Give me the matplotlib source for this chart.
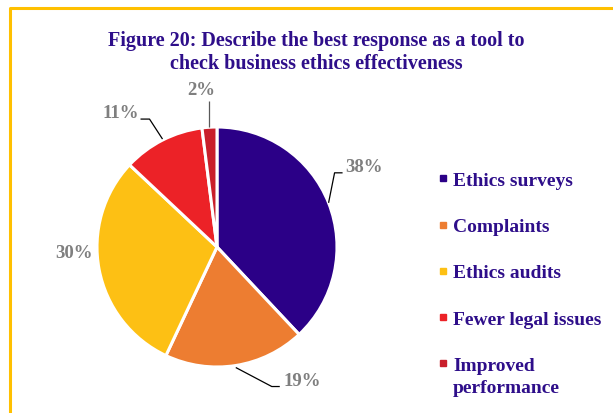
import numpy as np
import matplotlib
matplotlib.use('Agg')
import matplotlib.pyplot as plt
from matplotlib.lines import Line2D

# survey answers, share of respondents (%)
categories = ['Ethics surveys', 'Complaints', 'Ethics audits',
              'Fewer legal issues', 'Improved\nperformance']
shares = [38, 19, 30, 11, 2]
colors = ['#2B0087', '#ED7D31', '#FDC014', '#EC2227', '#C91F2B']

title = 'Figure 20: Describe the best response as a tool to\ncheck business ethics effectiveness'

TITLE_COLOR = '#2E0E8A'
LABEL_COLOR = '#7F7F7F'
SERIF = 'Liberation Serif'

W, H = 613, 414
fig = plt.figure(figsize=(W / 100, H / 100), dpi=100)
# axes in pixel units so the pie can be placed directly
ax = fig.add_axes([0, 0, 1, 1])

cx, cy, r = 217, 166, 120
wedges, _ = ax.pie(shares, colors=colors, startangle=90, counterclock=False,
                   center=(cx, cy), radius=r,
                   wedgeprops=dict(edgecolor='white', linewidth=2.2))
ax.set_xlim(0, W)
ax.set_ylim(0, H)
ax.set_aspect('equal')
ax.axis('off')

# per slice: label anchor offset from the wedge edge, alignment,
# and leader line vertices (offsets from the edge, empty = no line)
label_layout = [
    (17, 36, 'left', [(0, 0), (6, 30), (14, 30)]),
    (48, -15, 'left', [(0, -2), (36, -21), (44, -21)]),
    (-6, 17, 'right', []),
    (-24, 28, 'right', [(0, 1), (-13, 21), (-22, 21)]),
    (-8, 38, 'center', [(0, 0), (0, 26)]),
]

for w, val, (dx, dy, ha, leader) in zip(wedges, shares, label_layout):
    mid = np.deg2rad((w.theta1 + w.theta2) / 2)
    ex, ey = cx + r * np.cos(mid), cy + r * np.sin(mid)
    if leader:
        lx = [ex + p[0] for p in leader]
        ly = [ey + p[1] for p in leader]
        lc = '#595959' if ha == 'center' else 'black'
        ax.plot(lx, ly, color=lc, lw=0.9, solid_capstyle='butt', zorder=1)
    ax.text(ex + dx, ey + dy, f'{val}%', ha=ha, va='center', fontsize=13.5,
            fontweight='bold', family=SERIF, color=LABEL_COLOR)

fig.text(316 / W, 1 - 52.5 / H, title, ha='center', va='center', fontsize=14.5,
         fontweight='bold', family=SERIF, color=TITLE_COLOR, linespacing=1.2)

# legend rows are one line each; wrapped remainder of a label goes underneath
first_lines = [c.split('\n')[0] for c in categories]
handles = [Line2D([], [], marker='s', linestyle='none', markersize=5,
                  markerfacecolor=c, markeredgecolor=c) for c in colors]
leg = fig.legend(handles, first_lines, loc='upper left',
                 bbox_to_anchor=(420 / W, 1 - 155 / H), frameon=False,
                 handlelength=0.6, handletextpad=0.2, labelspacing=1.47,
                 prop=dict(family=SERIF, weight='bold', size=14))
for t in leg.get_texts():
    t.set_color(TITLE_COLOR)

fig.canvas.draw()
for t, full in zip(leg.get_texts(), categories):
    rest = full.split('\n')[1:]
    if rest:
        bb = t.get_window_extent()
        fig.text(bb.x0 / W, (bb.y0 - 22) / H, '\n'.join(rest), ha='left',
                 va='bottom', fontsize=14, fontweight='bold', family=SERIF,
                 color=TITLE_COLOR)

# gold frame, cut off at right and bottom
fig.add_artist(Line2D([10 / W, 10 / W, 1], [0, 1 - 9 / H, 1 - 9 / H],
                      transform=fig.transFigure, color='#FFC000', lw=2.2))

fig.savefig('out.png', dpi=100)
